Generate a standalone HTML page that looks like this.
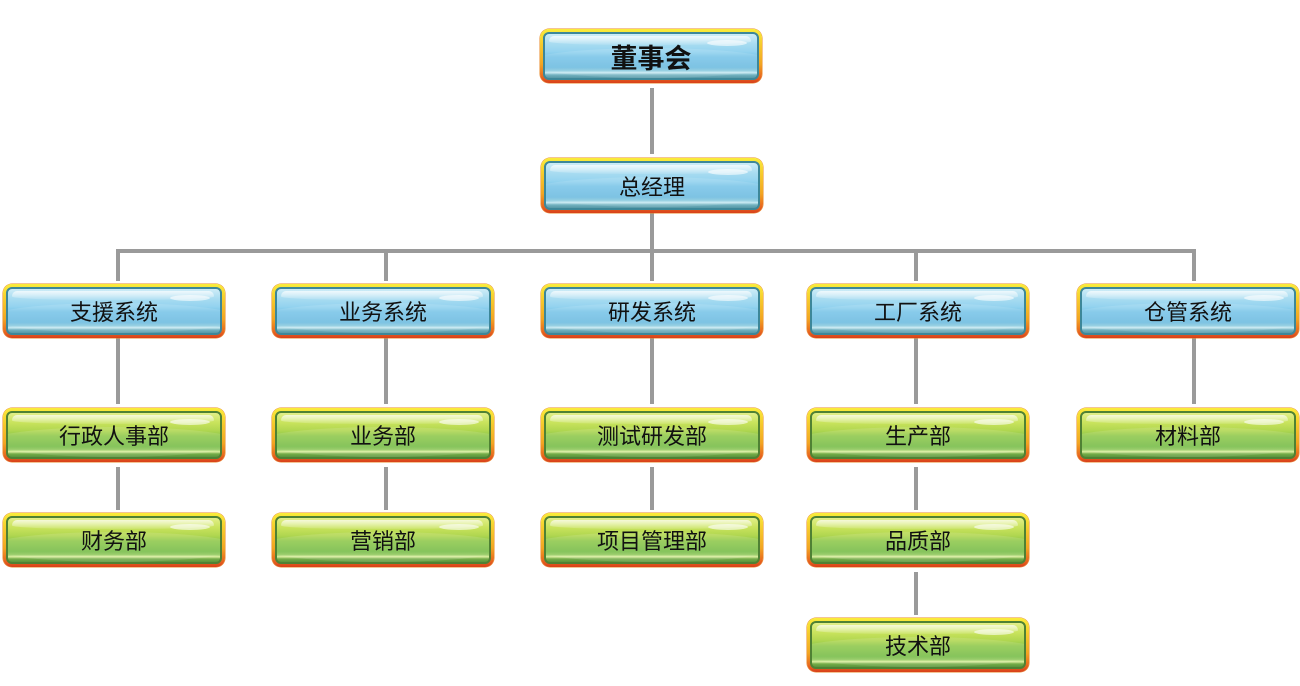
<!DOCTYPE html>
<html><head><meta charset="utf-8">
<style>
html,body{margin:0;padding:0;}
body{width:1300px;height:686px;background:#fff;position:relative;overflow:hidden;font-family:"Liberation Sans","Noto Sans CJK SC","WenQuanYi Zen Hei",sans-serif;}
.ln{position:absolute;background:#9a9a9a;}
.box{position:absolute;width:222px;height:54px;border-radius:9px;
 background:linear-gradient(#f9ec3a 0%,#f6c92c 30%,#f2a522 65%,#e8681e 88%,#d8401a 100%);
 box-shadow:0 0 0 0.5px #e88a2a;}
.in{position:absolute;left:3px;top:3px;right:3px;bottom:3px;border-radius:6px;overflow:hidden;}
.b .in{border:2px solid #3d8799;box-sizing:border-box;
 background:linear-gradient(#cdecf7 0%,#a8dcf1 22%,#94d3ef 40%,#78c4e8 52%,#6cbbe0 76%,#86c8de 83%,#c8eaf2 88%,#72b2c0 93%,#5698a6 100%);}
.g .in{border:2px solid #4f8134;box-sizing:border-box;
 background:linear-gradient(#e2ef88 0%,#c8e35c 22%,#b0d650 40%,#8ec84a 52%,#76bc46 76%,#8cc658 83%,#dcefa0 88%,#74ac48 93%,#5a943c 100%);}
.hl{position:absolute;left:4px;right:6px;top:2px;height:9px;border-radius:5px 5px 40% 40%;background:linear-gradient(rgba(255,255,255,0.7),rgba(255,255,255,0.1));}
.wv{position:absolute;left:-20px;right:-20px;top:14px;height:30px;border-radius:50%;background:rgba(255,255,255,0.12);}
.sp{position:absolute;right:10px;top:6px;width:40px;height:6px;border-radius:50%;background:rgba(255,255,255,0.6);}
.t{position:absolute;left:0;right:0;top:0;bottom:0;display:flex;align-items:center;justify-content:center;font-size:22px;color:#111;}
.top .t{font-size:27px;font-weight:bold;}
</style></head><body>

<!-- connectors -->
<div class="ln" style="left:650px;top:88px;width:4px;height:66px;"></div>
<div class="ln" style="left:650px;top:213px;width:4px;height:40px;"></div>
<div class="ln" style="left:116px;top:249px;width:1080px;height:4px;"></div>
<div class="ln" style="left:116px;top:249px;width:4px;height:32px;"></div>
<div class="ln" style="left:384px;top:249px;width:4px;height:32px;"></div>
<div class="ln" style="left:650px;top:249px;width:4px;height:32px;"></div>
<div class="ln" style="left:914px;top:249px;width:4px;height:32px;"></div>
<div class="ln" style="left:1192px;top:249px;width:4px;height:32px;"></div>

<div class="ln" style="left:116px;top:337px;width:4px;height:67px;"></div>
<div class="ln" style="left:384px;top:337px;width:4px;height:67px;"></div>
<div class="ln" style="left:650px;top:337px;width:4px;height:67px;"></div>
<div class="ln" style="left:914px;top:337px;width:4px;height:67px;"></div>
<div class="ln" style="left:1192px;top:337px;width:4px;height:67px;"></div>

<div class="ln" style="left:116px;top:467px;width:4px;height:43px;"></div>
<div class="ln" style="left:384px;top:467px;width:4px;height:43px;"></div>
<div class="ln" style="left:650px;top:467px;width:4px;height:43px;"></div>
<div class="ln" style="left:914px;top:467px;width:4px;height:43px;"></div>
<div class="ln" style="left:914px;top:572px;width:4px;height:43px;"></div>

<!-- boxes -->
<div class="box b top" style="left:540px;top:29px;"><div class="in"><div class="wv"></div><div class="hl"></div><div class="sp"></div></div><div class="t">董事会</div></div>
<div class="box b" style="left:541px;top:158px;height:55px;"><div class="in"><div class="wv"></div><div class="hl"></div><div class="sp"></div></div><div class="t">总经理</div></div>

<div class="box b" style="left:3px;top:284px;"><div class="in"><div class="wv"></div><div class="hl"></div><div class="sp"></div></div><div class="t">支援系统</div></div>
<div class="box b" style="left:272px;top:284px;"><div class="in"><div class="wv"></div><div class="hl"></div><div class="sp"></div></div><div class="t">业务系统</div></div>
<div class="box b" style="left:541px;top:284px;"><div class="in"><div class="wv"></div><div class="hl"></div><div class="sp"></div></div><div class="t">研发系统</div></div>
<div class="box b" style="left:807px;top:284px;"><div class="in"><div class="wv"></div><div class="hl"></div><div class="sp"></div></div><div class="t">工厂系统</div></div>
<div class="box b" style="left:1077px;top:284px;"><div class="in"><div class="wv"></div><div class="hl"></div><div class="sp"></div></div><div class="t">仓管系统</div></div>

<div class="box g" style="left:3px;top:408px;"><div class="in"><div class="wv"></div><div class="hl"></div><div class="sp"></div></div><div class="t">行政人事部</div></div>
<div class="box g" style="left:272px;top:408px;"><div class="in"><div class="wv"></div><div class="hl"></div><div class="sp"></div></div><div class="t">业务部</div></div>
<div class="box g" style="left:541px;top:408px;"><div class="in"><div class="wv"></div><div class="hl"></div><div class="sp"></div></div><div class="t">测试研发部</div></div>
<div class="box g" style="left:807px;top:408px;"><div class="in"><div class="wv"></div><div class="hl"></div><div class="sp"></div></div><div class="t">生产部</div></div>
<div class="box g" style="left:1077px;top:408px;"><div class="in"><div class="wv"></div><div class="hl"></div><div class="sp"></div></div><div class="t">材料部</div></div>

<div class="box g" style="left:3px;top:513px;"><div class="in"><div class="wv"></div><div class="hl"></div><div class="sp"></div></div><div class="t">财务部</div></div>
<div class="box g" style="left:272px;top:513px;"><div class="in"><div class="wv"></div><div class="hl"></div><div class="sp"></div></div><div class="t">营销部</div></div>
<div class="box g" style="left:541px;top:513px;"><div class="in"><div class="wv"></div><div class="hl"></div><div class="sp"></div></div><div class="t">项目管理部</div></div>
<div class="box g" style="left:807px;top:513px;"><div class="in"><div class="wv"></div><div class="hl"></div><div class="sp"></div></div><div class="t">品质部</div></div>

<div class="box g" style="left:807px;top:618px;"><div class="in"><div class="wv"></div><div class="hl"></div><div class="sp"></div></div><div class="t">技术部</div></div>

</body></html>
